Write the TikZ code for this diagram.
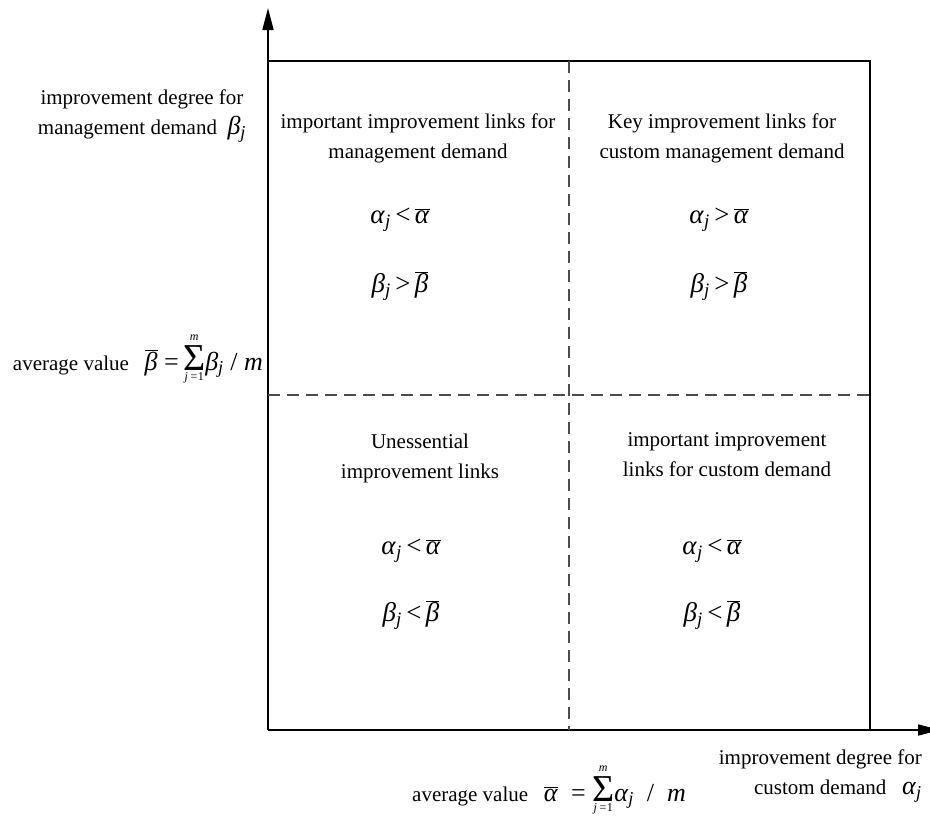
\documentclass[tikz,border=0pt]{standalone}
\usepackage{fontspec}
\setmainfont{Liberation Serif}
\usetikzlibrary{arrows.meta}

% italic Greek letters and helpers for the inequalities
\newcommand\gk[1]{\textit{#1}}
\newcommand\sj{\textsubscript{\gk{j}}}
\newcommand\bara{$\overline{\hbox{\gk{α}}}$}
\newcommand\barb{$\overline{\hbox{\gk{β}}}$}
% summation from j=1 to m
\newcommand\sumjm{$\mathop{\hbox{\fontsize{38}{38}\selectfont Σ}}\limits_{\hbox{\fontsize{12}{12}\selectfont\raisebox{-4pt}{\itshape j\,=\upshape 1}}}^{\hbox{\fontsize{12}{12}\selectfont\raisebox{3pt}{\itshape m}}}$}

\begin{document}
\begin{tikzpicture}[x=1pt, y=-1pt,
  axisline/.style={line width=1.7pt, -{Triangle[length=22pt,width=11pt]}},
  boxline/.style={line width=1.2pt},
  midline/.style={line width=1.3pt, black!70, dash pattern=on 12pt off 7pt},
  lbl/.style={font=\fontsize{21}{30}\selectfont, align=center, inner sep=0pt},
  frm/.style={font=\fontsize{27}{30}\selectfont, inner sep=0pt}]

\useasboundingbox (0,0) rectangle (930,820);

% axes and frame corners
\coordinate (O) at (268,730);
\coordinate (ytop) at (268,8);
\coordinate (xend) at (940,730);
\coordinate (tl) at (268,61);
\coordinate (tr) at (870,61);
\coordinate (br) at (870,730);
\coordinate (mt) at (569,61);
\coordinate (mb) at (569,730);
\coordinate (ml) at (268,395);
\coordinate (mr) at (870,395);

\draw[axisline] (O) -- (ytop);
\draw[axisline] (O) -- (xend);
\draw[boxline] (tl) -- (tr) -- (br);
\draw[midline] (mt) -- (mb);
\draw[midline] (ml) -- (mr);

% axis labels
\node[lbl] (ylab) at (142,116) {improvement degree for\\management demand~~{\fontsize{26}{30}\selectfont\gk{β}\sj}};
\node[lbl, align=right, anchor=north east] (xlab) at (922,750) {improvement degree for\\custom demand~~~{\fontsize{26}{30}\selectfont\gk{α}\sj}};

% average values
\node[lbl, anchor=base east] (bavg) at (263,370) {average value~~~{\fontsize{26}{30}\selectfont\barb\ =\,\sumjm\gk{β}\sj\ /\ \gk{m}}};
\node[lbl, anchor=base west] (aavg) at (412,801) {average value~~~{\fontsize{26}{30}\selectfont\bara~~=~\sumjm\gk{α}\sj~~/~~\gk{m}}};

% quadrant titles
\node[lbl] (qtl) at (418,138) {important improvement links for\\management demand};
\node[lbl] (qtr) at (722,138) {Key improvement links for\\custom management demand};
\node[lbl] (qbl) at (420,458) {Unessential\\improvement links};
\node[lbl] (qbr) at (727,455) {important improvement\\links for custom demand};

% quadrant conditions
\node[frm] (tla) at (400,220) {\gk{α}\sj\,<\,\bara};
\node[frm] (tlb) at (400,286) {\gk{β}\sj\,>\,\barb};
\node[frm] (tra) at (719,220) {\gk{α}\sj\,>\,\bara};
\node[frm] (trb) at (719,286) {\gk{β}\sj\,>\,\barb};
\node[frm] (bla) at (411,551) {\gk{α}\sj\,<\,\bara};
\node[frm] (blb) at (411,615) {\gk{β}\sj\,<\,\barb};
\node[frm] (bra) at (712,551) {\gk{α}\sj\,<\,\bara};
\node[frm] (brb) at (712,615) {\gk{β}\sj\,<\,\barb};
\end{tikzpicture}
\end{document}
